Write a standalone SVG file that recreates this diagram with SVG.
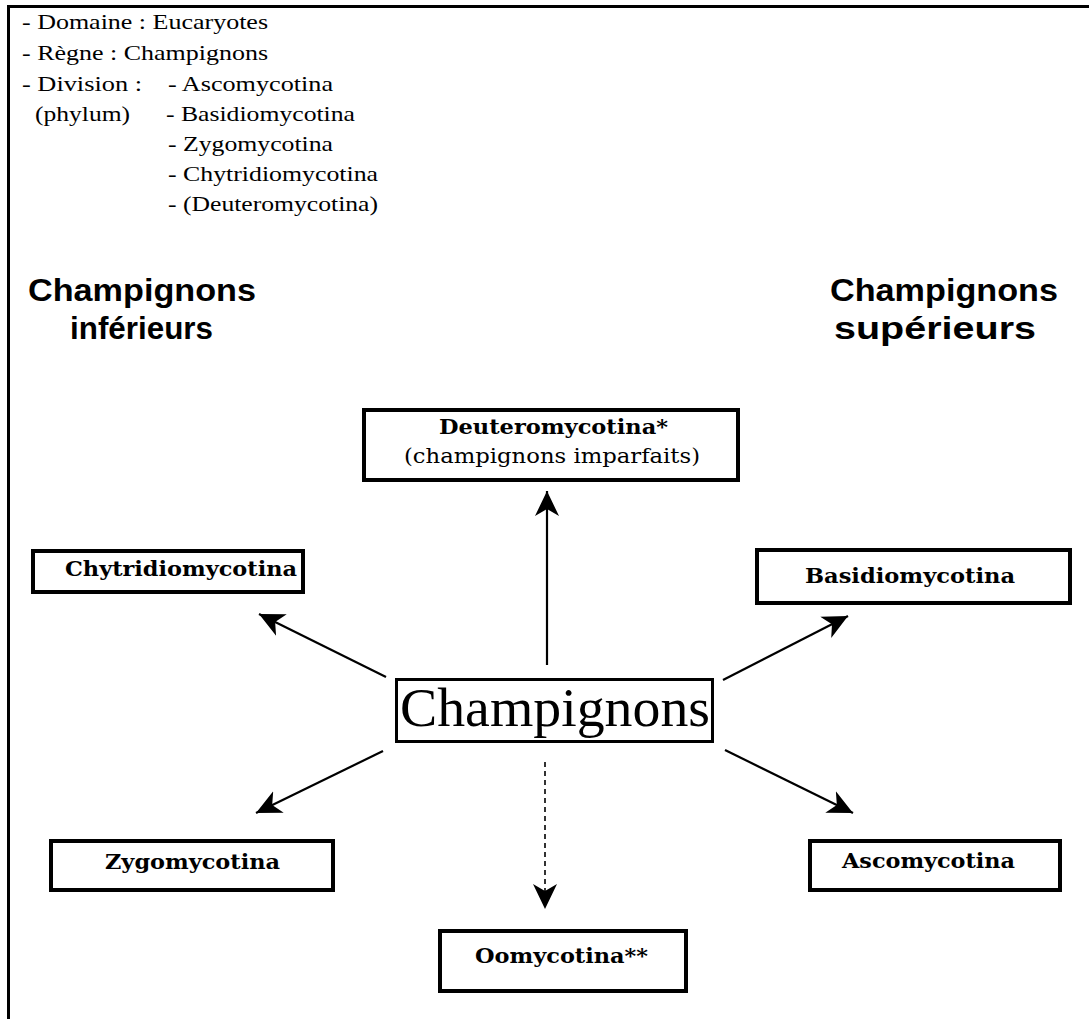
<svg xmlns="http://www.w3.org/2000/svg" width="1089" height="1019" viewBox="0 0 1089 1019">
<style>
.info{font-family:"Liberation Serif","Times New Roman",serif;font-size:21px;fill:#000}
.head{font-family:"Liberation Sans",Arial,sans-serif;font-size:32px;font-weight:bold;fill:#000}
.box{fill:#fff;stroke:#000;stroke-width:4}
.lbl{font-family:"DejaVu Serif","Liberation Serif",serif;font-size:20px;font-weight:bold;fill:#000}
.sub{font-family:"DejaVu Serif","Liberation Serif",serif;font-size:21px;fill:#000}
.arr{stroke:#000;stroke-width:2.2;fill:none;marker-end:url(#ah)}
</style>
<defs>
<marker id="ah" markerUnits="userSpaceOnUse" markerWidth="28" markerHeight="26" viewBox="0 -13 28 26" refX="25" refY="0" orient="auto">
<path d="M0,-12 L25,0 L0,12 L7,0 z" fill="#000"/>
</marker>
</defs>
<rect width="1089" height="1019" fill="#fff"/>
<g id="frame" stroke="#000" stroke-width="3">
<line x1="7" y1="6.5" x2="1089" y2="6.5"/>
<line x1="8.5" y1="5" x2="8.5" y2="1019"/>
</g>
<g id="classification">
<text class="info" x="22" y="29" textLength="246" lengthAdjust="spacingAndGlyphs">- Domaine : Eucaryotes</text>
<text class="info" x="22" y="60" textLength="246" lengthAdjust="spacingAndGlyphs">- Règne : Champignons</text>
<text class="info" x="22" y="91" textLength="120" lengthAdjust="spacingAndGlyphs">- Division :</text>
<text class="info" x="168" y="91" textLength="165" lengthAdjust="spacingAndGlyphs">- Ascomycotina</text>
<text class="info" x="35" y="121" textLength="95" lengthAdjust="spacingAndGlyphs">(phylum)</text>
<text class="info" x="166" y="121" textLength="189" lengthAdjust="spacingAndGlyphs">- Basidiomycotina</text>
<text class="info" x="168" y="151" textLength="165" lengthAdjust="spacingAndGlyphs">- Zygomycotina</text>
<text class="info" x="168" y="181" textLength="210" lengthAdjust="spacingAndGlyphs">- Chytridiomycotina</text>
<text class="info" x="168" y="211" textLength="210" lengthAdjust="spacingAndGlyphs">- (Deuteromycotina)</text>
</g>
<g id="heading-inferieurs">
<text class="head" x="28" y="301" textLength="228" lengthAdjust="spacingAndGlyphs">Champignons</text>
<text class="head" x="70" y="339" textLength="143" lengthAdjust="spacingAndGlyphs">inférieurs</text>
</g>
<g id="heading-superieurs">
<text class="head" x="830" y="301" textLength="228" lengthAdjust="spacingAndGlyphs">Champignons</text>
<text class="head" x="834" y="339" textLength="202" lengthAdjust="spacingAndGlyphs">supérieurs</text>
</g>
<g id="connectors">
<line class="arr" x1="547" y1="665" x2="547" y2="491"/>
<line class="arr" x1="386" y1="677" x2="259" y2="614"/>
<line class="arr" x1="723" y1="680" x2="848" y2="616"/>
<line class="arr" x1="383" y1="751" x2="256" y2="813"/>
<line class="arr" x1="725" y1="750" x2="853" y2="813"/>
<line x1="545" y1="762" x2="545" y2="895" stroke="#000" stroke-width="1.6" stroke-dasharray="5,4"/>
<path d="M533,884 L545,909 L557,884 L545,891 z" fill="#000"/>
</g>
<g id="node-deuteromycotina">
<rect class="box" x="364" y="410" width="374" height="70"/>
<text class="lbl" x="439" y="434" textLength="229" lengthAdjust="spacingAndGlyphs">Deuteromycotina*</text>
<text class="sub" x="404" y="463" textLength="296" lengthAdjust="spacingAndGlyphs">(champignons imparfaits)</text>
</g>
<g id="node-chytridiomycotina">
<rect class="box" x="33" y="551" width="270" height="41"/>
<text class="lbl" x="65" y="576" textLength="232" lengthAdjust="spacingAndGlyphs">Chytridiomycotina</text>
</g>
<g id="node-basidiomycotina">
<rect class="box" x="757" y="550" width="313" height="53"/>
<text class="lbl" x="805" y="583" textLength="210" lengthAdjust="spacingAndGlyphs">Basidiomycotina</text>
</g>
<g id="node-champignons">
<rect x="396.5" y="679.5" width="316" height="62" fill="#fff" stroke="#000" stroke-width="3"/>
<text x="400" y="726" font-family="Liberation Serif, Times New Roman, serif" font-size="54" textLength="310" lengthAdjust="spacingAndGlyphs">Champignons</text>
</g>
<g id="node-zygomycotina">
<rect class="box" x="51" y="841" width="282" height="49"/>
<text class="lbl" x="105" y="869" textLength="175" lengthAdjust="spacingAndGlyphs">Zygomycotina</text>
</g>
<g id="node-ascomycotina">
<rect class="box" x="810" y="841" width="250" height="49"/>
<text class="lbl" x="842" y="868" textLength="173" lengthAdjust="spacingAndGlyphs">Ascomycotina</text>
</g>
<g id="node-oomycotina">
<rect class="box" x="440" y="931" width="246" height="60"/>
<text class="lbl" x="475" y="963" textLength="173" lengthAdjust="spacingAndGlyphs">Oomycotina**</text>
</g>
</svg>
